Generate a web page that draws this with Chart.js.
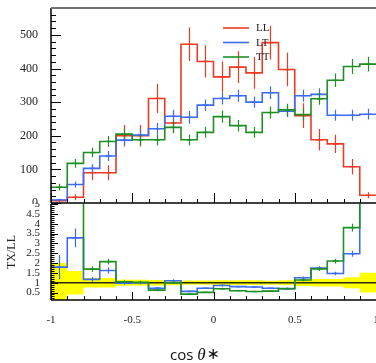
<!DOCTYPE html>
<html>
<head>
<meta charset="utf-8">
<script src="https://cdn.jsdelivr.net/npm/chart.js@4/dist/chart.umd.min.js"></script>
<style>
  html, body { margin: 0; padding: 0; background: #fff; overflow: hidden; }
  #wrap { position: relative; width: 376px; height: 363px; }
  canvas { position: absolute; left: 0; }
  #topChart { top: 0; }
  #ratioChart { top: 203px; }
</style>
</head>
<body>
<div id="wrap">
  <canvas id="topChart" width="376" height="204"></canvas>
  <canvas id="ratioChart" width="376" height="160"></canvas>
</div>
<script>
// bin edges of cos theta*
const edges = [-1, -0.9, -0.8, -0.7, -0.6, -0.5, -0.4, -0.3, -0.2, -0.1, 0, 0.1, 0.2, 0.3, 0.4, 0.5, 0.6, 0.7, 0.8, 0.9, 1];

// top panel, events per bin
const LL = [7, 17, 90, 90, 200, 200, 311, 238, 472, 421, 375, 404, 387, 477, 397, 260, 188, 176, 108, 23];
const LT = [9, 55, 103, 140, 187, 202, 221, 258, 255, 291, 311, 319, 300, 328, 273, 319, 323, 261, 261, 264];
const TT = [47, 118, 150, 183, 205, 188, 188, 225, 188, 210, 257, 230, 210, 269, 277, 263, 310, 365, 406, 413];
const errLL = [5, 9, 22, 22, 32, 32, 43, 30, 50, 48, 46, 47, 47, 50, 50, 37, 32, 27, 23, 9];
const errLT = [4, 9, 12, 15, 16, 17, 17, 19, 19, 17, 18, 18, 17, 19, 17, 18, 18, 16, 16, 16];
const errTT = [10, 13, 14, 16, 16, 16, 16, 17, 16, 16, 18, 17, 16, 18, 18, 18, 18, 20, 22, 22];

// bottom panel, ratio to LL
const ratioLT = [1.79, 3.28, 1.17, 1.62, 0.97, 1.0, 0.72, 1.1, 0.56, 0.72, 0.86, 0.8, 0.78, 0.72, 0.69, 1.25, 1.74, 1.47, 2.47, 11.5];
const ratioTT = [9.4, 7.4, 1.69, 2.07, 1.05, 1.02, 0.62, 1.0, 0.42, 0.51, 0.69, 0.59, 0.55, 0.57, 0.7, 1.14, 1.7, 2.1, 3.8, 17.9];
const errRatioLT = [0.62, 0.48, 0.12, 0.15, 0.08, 0.08, 0.06, 0.08, 0.04, 0.04, 0.05, 0.05, 0.05, 0.04, 0.04, 0.07, 0.1, 0.09, 0.15, 0.7];
const errRatioTT = [1.5, 0.8, 0.13, 0.14, 0.08, 0.08, 0.05, 0.07, 0.03, 0.04, 0.05, 0.04, 0.04, 0.04, 0.05, 0.07, 0.1, 0.12, 0.2, 1.0];
const bandLL = [1.0, 0.6, 0.24, 0.24, 0.15, 0.15, 0.14, 0.13, 0.11, 0.11, 0.12, 0.12, 0.12, 0.1, 0.12, 0.17, 0.19, 0.19, 0.28, 0.5];
const unity = 1;

// tick labels
const yTicksTop = [0, 100, 200, 300, 400, 500];
const yTicksRatio = [0.5, 1, 1.5, 2, 2.5, 3, 3.5, 4, 4.5, 5];
const xTicks = [-1, -0.5, 0, 0.5, 1];

const colLL = '#ec3b22';
const colLT = '#3d6cf2';
const colTT = '#1e8f24';
const serif = '"Liberation Serif", serif';

const centres = edges.slice(0, -1).map((e, i) => (e + edges[i + 1]) / 2);

function steps(vals) {
    return edges.map((e, i) => ({ x: e, y: vals[Math.min(i, vals.length - 1)] }));
}

function histo(label, vals, errs, color, order) {
    return {
        label: label,
        data: steps(vals),
        values: vals,
        errors: errs,
        borderColor: color,
        borderWidth: 1.6,
        stepped: true,
        pointRadius: 0,
        fill: false,
        order: order
    };
}

function fixWidth(w) {
    return s => { s.width = w; s.paddingLeft = s.paddingRight = s.paddingTop = s.paddingBottom = 0; };
}
function fixHeight(h) {
    return s => { s.height = h; s.paddingLeft = s.paddingRight = s.paddingTop = s.paddingBottom = 0; };
}
function useTicks(list) {
    return s => { s.ticks = list.map(v => ({ value: v })); };
}
const plain = v => String(v);

// vertical error bars at bin centres
const errorBars = {
    id: 'errorBars',
    afterDatasetsDraw(chart) {
        const { ctx, chartArea: a, scales: { x, y } } = chart;
        ctx.save();
        ctx.beginPath();
        ctx.rect(a.left, a.top, a.right - a.left, a.bottom - a.top);
        ctx.clip();
        chart.data.datasets.forEach(ds => {
            if (!ds.errors) return;
            ctx.strokeStyle = ds.borderColor;
            ctx.lineWidth = 1.2;
            ds.errors.forEach((e, i) => {
                const v = ds.values[i];
                const px = Math.round(x.getPixelForValue(centres[i])) + 0.5;
                const py = y.getPixelForValue(v);
                ctx.beginPath();
                ctx.moveTo(px, y.getPixelForValue(v - e));
                ctx.lineTo(px, y.getPixelForValue(v + e));
                ctx.moveTo(px - 3, py);
                ctx.lineTo(px + 3, py);
                ctx.stroke();
            });
        });
        ctx.restore();
    }
};

// frame and inward ticks, ROOT style
const frameTicks = {
    id: 'frameTicks',
    afterDraw(chart, args, o) {
        const { ctx, chartArea: a, scales: { x, y } } = chart;
        const line = (x1, y1, x2, y2) => { ctx.beginPath(); ctx.moveTo(x1, y1); ctx.lineTo(x2, y2); ctx.stroke(); };
        ctx.save();
        ctx.strokeStyle = '#000';
        ctx.lineWidth = 1;
        edges.forEach(v => {
            const p = Math.round(x.getPixelForValue(v)) + 0.5;
            const len = xTicks.includes(v) ? o.xMajor : o.xMinor;
            line(p, a.bottom, p, a.bottom - len);
        });
        for (let v = o.yStart; v <= o.yEnd + 1e-9; v += o.yStep) {
            const p = Math.round(y.getPixelForValue(v)) + 0.5;
            const major = Math.abs(v / o.yMajorStep - Math.round(v / o.yMajorStep)) < 1e-6;
            line(a.left, p, a.left + (major ? o.yMajor : o.yMinor), p);
        }
        ctx.lineWidth = 1.5;
        line(a.left, a.top, a.left, a.bottom);
        line(a.left, a.bottom, a.right, a.bottom);
        if (o.topLine) {
            ctx.strokeStyle = '#707070';
            ctx.lineWidth = 2;
            line(a.left, a.top, a.right, a.top);
        }
        ctx.restore();
    }
};

// legend drawn in the upper middle of the top pad
const legendRows = {
    id: 'legendRows',
    afterDraw(chart) {
        const { ctx } = chart;
        ctx.save();
        ctx.font = '11px ' + serif;
        ctx.textBaseline = 'middle';
        ctx.fillStyle = '#222';
        chart.data.datasets.forEach((ds, i) => {
            const yy = 28 + i * 14.5;
            ctx.strokeStyle = ds.borderColor;
            ctx.lineWidth = 1.6;
            ctx.beginPath();
            ctx.moveTo(223, yy);
            ctx.lineTo(249, yy);
            ctx.stroke();
            ctx.fillText(ds.label, 256, yy + 0.5);
        });
        ctx.restore();
    }
};

// x axis title "cos θ∗"
const xTitle = {
    id: 'xTitle',
    afterDraw(chart) {
        const { ctx } = chart;
        ctx.save();
        ctx.fillStyle = '#111';
        ctx.textBaseline = 'alphabetic';
        let px = 170;
        const base = 157;
        ctx.font = '15px "Open Sans", sans-serif';
        ctx.fillText('cos', px, base);
        px += ctx.measureText('cos ').width;
        ctx.font = 'italic 17px ' + serif;
        ctx.fillText('θ', px, base);
        px += ctx.measureText('θ').width + 1;
        ctx.font = '16px "DejaVu Sans", sans-serif';
        ctx.fillText('∗', px, base - 1);
        ctx.restore();
    }
};

const common = {
    responsive: false,
    animation: false,
    events: [],
    plugins: { legend: { display: false }, tooltip: { enabled: false } }
};

new Chart(document.getElementById('topChart'), {
    type: 'line',
    data: {
        datasets: [
            histo('LL', LL, errLL, colLL, 3),
            histo('LT', LT, errLT, colLT, 2),
            histo('TT', TT, errTT, colTT, 1)
        ]
    },
    options: {
        ...common,
        layout: { padding: { top: 8, left: 0, right: 0, bottom: 0 } },
        plugins: {
            ...common.plugins,
            frameTicks: { xMajor: 10, xMinor: 4, yStart: 0, yEnd: 580, yStep: 20, yMajorStep: 100, yMajor: 10, yMinor: 5, topLine: true }
        },
        scales: {
            x: {
                type: 'linear', min: -1, max: 1,
                ticks: { display: false },
                grid: { display: false },
                border: { display: false },
                afterFit: fixHeight(1)
            },
            y: {
                min: 0, max: 580,
                afterBuildTicks: useTicks(yTicksTop),
                ticks: { font: { family: serif, size: 12 }, color: '#222', padding: 5, autoSkip: false, callback: plain },
                grid: { display: false },
                border: { display: false },
                afterFit: fixWidth(51)
            }
        }
    },
    plugins: [errorBars, frameTicks, legendRows]
});

new Chart(document.getElementById('ratioChart'), {
    type: 'line',
    data: {
        datasets: [
            {
                label: 'band hi',
                data: steps(bandLL.map(b => unity + b)),
                borderWidth: 0, pointRadius: 0, stepped: true,
                backgroundColor: '#ffff00', fill: '+1', order: 10
            },
            {
                label: 'band lo',
                data: steps(bandLL.map(b => unity - b)),
                borderWidth: 0, pointRadius: 0, stepped: true,
                fill: false, order: 10
            },
            {
                label: 'unity',
                data: [{ x: edges[0], y: unity }, { x: edges[edges.length - 1], y: unity }],
                borderColor: '#2a2a10', borderWidth: 1.6, pointRadius: 0, fill: false, order: 5
            },
            histo('LT/LL', ratioLT, errRatioLT, colLT, 2),
            histo('TT/LL', ratioTT, errRatioTT, colTT, 1)
        ]
    },
    options: {
        ...common,
        layout: { padding: { top: 1, left: 0, right: 0, bottom: 0 } },
        plugins: {
            ...common.plugins,
            frameTicks: { xMajor: 8, xMinor: 4, yStart: 0.2, yEnd: 5, yStep: 0.1, yMajorStep: 0.5, yMajor: 7, yMinor: 3.5, topLine: false }
        },
        scales: {
            x: {
                type: 'linear', min: -1, max: 1,
                afterBuildTicks: useTicks(xTicks),
                ticks: { font: { family: serif, size: 11 }, color: '#222', padding: 6, maxRotation: 0, autoSkip: false, callback: plain },
                grid: { display: false },
                border: { display: false },
                afterFit: fixHeight(63)
            },
            y: {
                min: 0.12, max: 5,
                afterBuildTicks: useTicks(yTicksRatio),
                ticks: { font: { family: serif, size: 11 }, color: '#222', padding: 3, autoSkip: false, callback: plain },
                grid: { display: false },
                border: { display: false },
                title: { display: true, text: 'TX/LL', font: { family: serif, size: 12 }, color: '#222', padding: { top: 5, bottom: 0 } },
                afterFit: fixWidth(51)
            }
        }
    },
    plugins: [errorBars, frameTicks, xTitle]
});
</script>
</body>
</html>
